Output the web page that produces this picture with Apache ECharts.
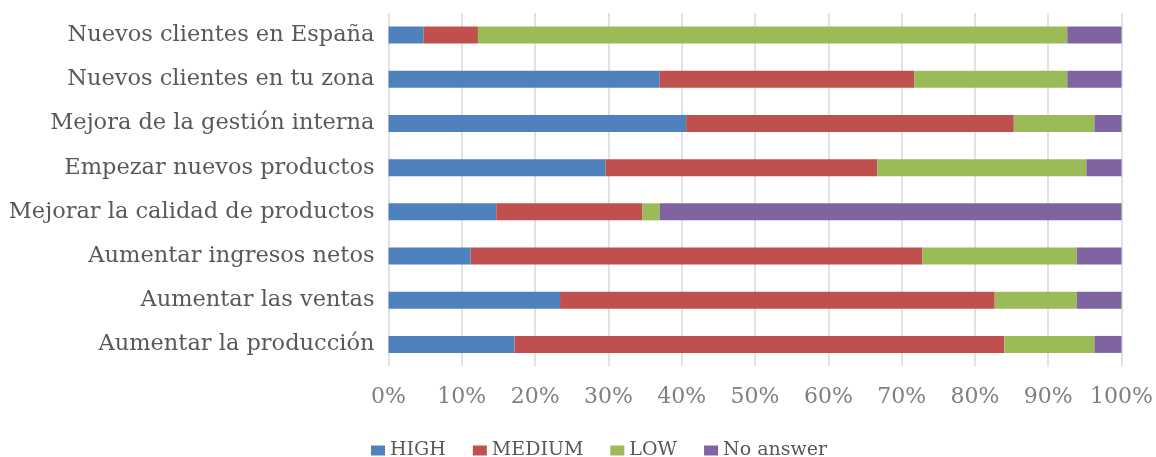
<!DOCTYPE html>
<html>
<head>
<meta charset="utf-8">
<script src="https://cdn.jsdelivr.net/npm/echarts@6/dist/echarts.min.js"></script>
<style>
  html, body { margin: 0; padding: 0; background: #fff; }
  #chart { width: 1156px; height: 457px; }
</style>
</head>
<body>
<div id="chart"></div>
<script>
// Objectives, listed top to bottom
const categories = [
  'Nuevos clientes en España',
  'Nuevos clientes en tu zona',
  'Mejora de la gestión interna',
  'Empezar nuevos productos',
  'Mejorar la calidad de productos',
  'Aumentar ingresos netos',
  'Aumentar las ventas',
  'Aumentar la producción'
];

// Share of answers per priority level (%)
const high     = [4.8, 37.0, 40.6, 29.6, 14.7, 11.2, 23.4, 17.2];
const medium   = [7.4, 34.7, 44.7, 37.1, 19.9, 61.6, 59.3, 66.8];
const low      = [80.4, 20.9, 11.0, 28.5, 2.4, 21.1, 11.2, 12.3];
const noAnswer = [7.4, 7.4, 3.7, 4.8, 63.0, 6.1, 6.1, 3.7];

const seriesNames = ['HIGH', 'MEDIUM', 'LOW', 'No answer'];
const seriesData = [high, medium, low, noAnswer];
const colors = ['#4f81bd', '#c0504d', '#9bbb59', '#8064a2'];

const fontFamily = '"DejaVu Serif", serif';

const chart = echarts.init(document.getElementById('chart'));
chart.setOption({
  animation: false,
  color: colors,
  grid: { left: 388.5, right: 33.5, top: 13, bottom: 90.5, containLabel: false },
  legend: {
    top: 436,
    left: 366,
    icon: 'rect',
    itemWidth: 14,
    itemHeight: 10,
    itemGap: 27,
    textStyle: { fontFamily, fontSize: 19, color: '#595959' },
    data: seriesNames
  },
  xAxis: {
    type: 'value',
    min: 0,
    max: 100,
    interval: 10,
    axisLine: { show: false },
    axisTick: { show: false },
    splitLine: { show: true, lineStyle: { color: '#d9d9d9', width: 1.5 } },
    axisLabel: {
      formatter: '{value}%',
      margin: 20,
      fontFamily,
      fontSize: 22,
      color: '#7f7f7f'
    }
  },
  yAxis: {
    type: 'category',
    inverse: true,
    data: categories,
    axisLine: { show: false },
    axisTick: { show: false },
    axisLabel: {
      margin: 14,
      fontFamily,
      fontSize: 22.5,
      color: '#595959'
    }
  },
  series: seriesNames.map((name, i) => ({
    name,
    type: 'bar',
    stack: 'total',
    barWidth: 17,
    data: seriesData[i]
  }))
});
</script>
</body>
</html>
